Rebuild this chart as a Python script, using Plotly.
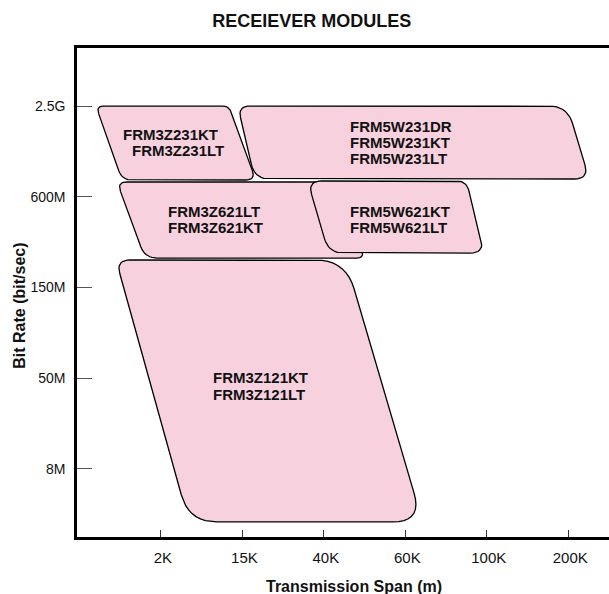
import numpy as np
import plotly.graph_objects as go

# ---------------- data ----------------
title_text = "RECEIEVER MODULES"
x_title = "Transmission Span (m)"
y_title = "Bit Rate (bit/sec)"

span_ticks = ["2K", "15K", "40K", "60K", "100K", "200K"]        # x categories (index 1..6)
rate_ticks = ["8M", "50M", "150M", "600M", "2.5G"]              # y categories (index 1..5)

# module groups (order of drawing)
group_names = [
    ["FRM3Z231KT", "FRM3Z231LT"],
    ["FRM5W231DR", "FRM5W231KT", "FRM5W231LT"],
    ["FRM3Z621LT", "FRM3Z621KT"],
    ["FRM5W621KT", "FRM5W621LT"],
    ["FRM3Z121KT", "FRM3Z121LT"],
]
# region extents in axis units: span at top-left, top-right, bottom-right, bottom-left
span_top_left = [0.203, 1.944, 0.461, 2.801, 0.449]
span_top_right = [1.833, 5.988, 3.181, 4.750, 3.267]
span_bot_right = [2.164, 6.257, 3.500, 4.971, 4.211]
span_bot_left = [0.522, 2.152, 0.804, 3.059, 1.343]
rate_top = [5.000, 5.000, 4.163, 4.174, 3.303]
rate_bot = [4.185, 4.196, 3.325, 3.380, 0.416]

# ---------------- styling ----------------
corner_radius_px = [
    [8, 6, 10, 10],
    [12, 18, 15, 15],
    [10, 10, 8, 12],
    [14, 10, 14, 15],
    [14, 30, 30, 28],
]
# label placement (axis units): list of (x, y, xanchor) per line
label_pos = [
    [(1.123, 4.691, "center"), (1.208, 4.515, "center")],
    [(3.292, 4.777, "left"), (3.292, 4.601, "left"), (3.292, 4.425, "left")],
    [(1.650, 3.843, "center"), (1.674, 3.667, "center")],
    [(3.292, 3.843, "left"), (3.292, 3.667, "left")],
    [(1.613, 2.003, "left"), (1.613, 1.826, "left")],
]

FONT = "Liberation Sans, Arial, Helvetica, sans-serif"
FILL = "#F8D1DF"
PX_X, PX_Y = 81.6, 90.75  # approx px per axis unit, for corner rounding only


def rounded_outline(corners, radii, n=10):
    pts = [np.array([cx * PX_X, cy * PX_Y]) for cx, cy in corners]
    out = []
    k = len(pts)
    for i in range(k):
        p = pts[i]
        pp = pts[i - 1]
        pn = pts[(i + 1) % k]
        r = radii[i]
        d1 = (pp - p) / np.linalg.norm(pp - p)
        d2 = (pn - p) / np.linalg.norm(pn - p)
        a = p + d1 * r
        b = p + d2 * r
        for t in np.linspace(0, 1, n):
            q = (1 - t) ** 2 * a + 2 * (1 - t) * t * p + t ** 2 * b
            out.append(q)
    out.append(out[0])
    xs = [q[0] / PX_X for q in out]
    ys = [q[1] / PX_Y for q in out]
    return xs, ys


fig = go.Figure()

for i, names in enumerate(group_names):
    corners = [
        (span_top_left[i], rate_top[i]),
        (span_top_right[i], rate_top[i]),
        (span_bot_right[i], rate_bot[i]),
        (span_bot_left[i], rate_bot[i]),
    ]
    xs, ys = rounded_outline(corners, corner_radius_px[i])
    fig.add_trace(go.Scatter(
        x=xs, y=ys, mode="lines", fill="toself", fillcolor=FILL,
        line=dict(color="black", width=1.3), hoverinfo="skip", showlegend=False,
    ))

annotations = []
for names, poss in zip(group_names, label_pos):
    for name, (lx, ly, anc) in zip(names, poss):
        annotations.append(dict(
            x=lx, y=ly, xref="x", yref="y", text=f"<b>{name}</b>", showarrow=False,
            xanchor=anc, yanchor="middle", font=dict(family=FONT, size=15, color="#111"),
        ))

annotations.append(dict(
    x=0.52, y=-0.102, xref="paper", yref="paper", text=f"<b>{x_title}</b>",
    showarrow=False, xanchor="center", yanchor="middle",
    font=dict(family=FONT, size=16, color="#111"),
))
annotations.append(dict(
    x=-0.108, y=0.472, xref="paper", yref="paper", text=f"<b>{y_title}</b>",
    showarrow=False, xanchor="center", yanchor="middle", textangle=-90,
    font=dict(family=FONT, size=16, color="#111"),
))

fig.update_layout(
    width=609, height=594,
    margin=dict(l=77, r=0, t=48, b=57),
    paper_bgcolor="white", plot_bgcolor="white",
    title=dict(text=f"<b>{title_text}</b>", x=0.512, xref="container", xanchor="center",
               y=1 - 21 / 594, yref="container", yanchor="middle",
               font=dict(family=FONT, size=18, color="#111")),
    annotations=annotations,
    xaxis=dict(
        range=[-0.03, 6.5], tickvals=list(range(1, len(span_ticks) + 1)), ticktext=span_ticks,
        showgrid=False, zeroline=False, showline=True, linecolor="black", linewidth=2.5,
        mirror=True, ticks="inside", ticklen=7, tickcolor="#333", tickwidth=1,
        tickfont=dict(family=FONT, size=15, color="#111"), ticklabelshift=2,
        ticklabelstandoff=5,
    ),
    yaxis=dict(
        range=[0.25, 5.64], tickvals=list(range(1, len(rate_ticks) + 1)), ticktext=rate_ticks,
        showgrid=False, zeroline=False, showline=True, linecolor="black", linewidth=2.5,
        ticks="inside", ticklen=15, tickcolor="#555", tickwidth=1,
        tickfont=dict(family=FONT, size=14, color="#111"), ticklabelstandoff=6,
    ),
)

fig.write_html("out.html", post_script="document.body.style.margin='0';",
               config={"displayModeBar": False})
